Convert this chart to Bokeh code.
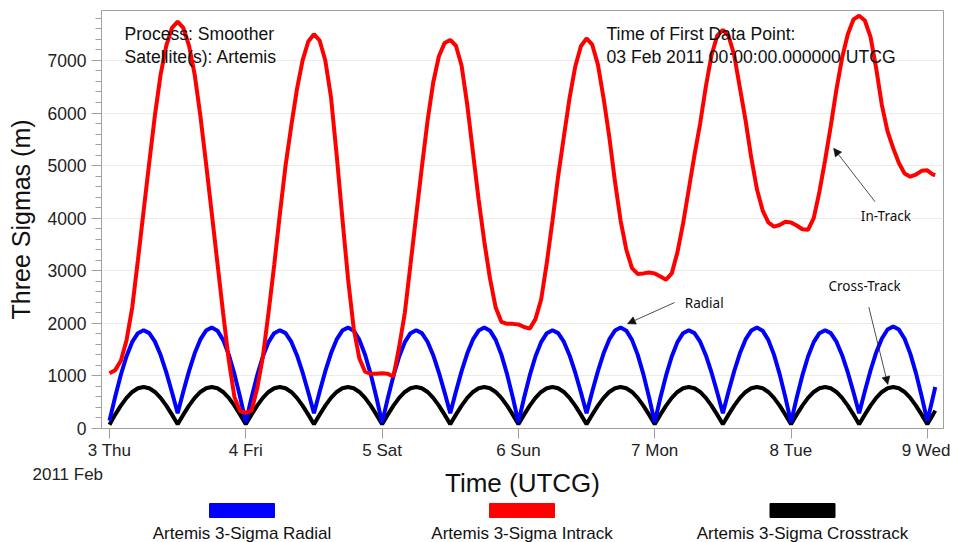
from bokeh.plotting import figure
from bokeh.models import (FixedTicker, SingleIntervalTicker, Label, Arrow, NormalHead,
                          Range1d, ColumnDataSource)
from bokeh.layouts import column
from bokeh.core.properties import value
from bokeh.embed import file_html
from bokeh.resources import INLINE

# ---------------- data (hours since 03 Feb 2011 00:00 UTCG) ----------------
hours = list(range(0, 146)) + [145.4]

radial = [
    150, 604, 1022, 1376, 1646, 1813, 1870, 1814, 1652, 1397, 1068, 690,
    290, 702, 1091, 1430, 1694, 1862, 1920, 1861, 1686, 1405, 1034, 597,
    120, 584, 1009, 1370, 1643, 1813, 1870, 1814, 1651, 1395, 1066, 689,
    290, 701, 1090, 1429, 1694, 1862, 1920, 1861, 1686, 1403, 1030, 590,
    110, 577, 1005, 1368, 1642, 1813, 1870, 1814, 1650, 1394, 1065, 688,
    290, 702, 1091, 1430, 1694, 1862, 1920, 1861, 1686, 1405, 1034, 597,
    120, 584, 1009, 1370, 1643, 1813, 1870, 1814, 1651, 1395, 1066, 689,
    290, 702, 1091, 1430, 1694, 1862, 1920, 1861, 1686, 1405, 1034, 597,
    120, 584, 1009, 1370, 1643, 1813, 1870, 1814, 1651, 1395, 1066, 689,
    290, 702, 1091, 1430, 1694, 1862, 1920, 1861, 1686, 1405, 1034, 597,
    120, 584, 1009, 1370, 1643, 1813, 1870, 1814, 1651, 1395, 1066, 689,
    290, 708, 1103, 1446, 1712, 1882, 1940, 1881, 1706, 1424, 1053, 616,
    140, 600, 790,
]

intrack = [
    1050, 1110, 1290, 1680, 2300, 3200, 4130, 5060, 5960, 6730, 7280, 7620,
    7740, 7620, 7280, 6730, 5950, 5040, 4100, 3150, 2200, 1300, 600, 330,
    300, 340, 760, 1360, 2200, 3110, 4080, 5000, 5750, 6450, 7000, 7360,
    7500, 7380, 7000, 6300, 5200, 4000, 2850, 1900, 1330, 1080, 1040, 1040,
    1050, 1040, 990, 1550, 2200, 3120, 4050, 4970, 5850, 6580, 7080, 7330,
    7390, 7280, 6900, 6150, 5250, 4350, 3550, 2850, 2300, 2030, 1990, 1990,
    1980, 1930, 1900, 2080, 2450, 3150, 3950, 4800, 5550, 6280, 6880, 7270,
    7420, 7300, 6920, 6280, 5550, 4700, 3950, 3400, 3050, 2940, 2950, 2965,
    2950, 2890, 2830, 2950, 3350, 3900, 4550, 5200, 5800, 6500, 7100, 7470,
    7580, 7470, 7100, 6480, 5860, 5150, 4550, 4150, 3920, 3840, 3870, 3930,
    3920, 3860, 3790, 3780, 4000, 4500, 5100, 5750, 6450, 7050, 7500, 7780,
    7850, 7760, 7450, 6850, 6150, 5650, 5330, 5050, 4850, 4790, 4830, 4900,
    4910, 4830, 4820,
]

crosstrack = [
    70, 264, 435, 582, 695, 766, 790, 766, 695, 582, 435, 264,
    80, 264, 435, 582, 695, 766, 790, 766, 695, 582, 435, 264,
    80, 264, 435, 582, 695, 766, 790, 766, 695, 582, 435, 264,
    80, 264, 435, 582, 695, 766, 790, 766, 695, 582, 435, 264,
    80, 264, 435, 582, 695, 766, 790, 766, 695, 582, 435, 264,
    80, 264, 435, 582, 695, 766, 790, 766, 695, 582, 435, 264,
    80, 264, 435, 582, 695, 766, 790, 766, 695, 582, 435, 264,
    80, 264, 435, 582, 695, 766, 790, 766, 695, 582, 435, 264,
    80, 264, 435, 582, 695, 766, 790, 766, 695, 582, 435, 264,
    80, 264, 435, 582, 695, 766, 790, 766, 695, 582, 435, 264,
    80, 264, 435, 582, 695, 766, 790, 766, 695, 582, 435, 264,
    80, 264, 435, 582, 695, 766, 790, 766, 695, 582, 435, 264,
    80, 264, 340,
]

day_ticks = [0, 24, 48, 72, 96, 120, 144]
day_labels = ["3 Thu", "4 Fri", "5 Sat", "6 Sun", "7 Mon", "8 Tue", "9 Wed"]
year_month_label = "2011 Feb"

series_names = ["Artemis 3-Sigma Radial", "Artemis 3-Sigma Intrack", "Artemis 3-Sigma Crosstrack"]
series_colors = ["#0000ff", "#ff0000", "#000000"]

FONT = "Liberation Sans"
NOTE_FONT = "Noto Sans"

# ---------------- main figure ----------------
p = figure(width=950, height=462, output_backend="svg", toolbar_location=None,
           x_range=Range1d(-1.41, 146.85), y_range=Range1d(0, 7950),
           min_border_left=101, min_border_right=7, min_border_top=10, min_border_bottom=33)

src = ColumnDataSource(dict(h=hours, r=radial, i=intrack, c=crosstrack))
p.line("h", "c", source=src, line_color=series_colors[2], line_width=4)
p.line("h", "r", source=src, line_color=series_colors[0], line_width=4)
p.line("h", "i", source=src, line_color=series_colors[1], line_width=4)

p.background_fill_color = "white"
p.border_fill_color = "white"
p.outline_line_color = "#a0a0a0"
p.xgrid.visible = False
p.ygrid.grid_line_color = "#ebebeb"
p.ygrid.grid_line_width = 1

xa = p.xaxis[0]
xa.ticker = FixedTicker(ticks=day_ticks)
xa.major_label_overrides = {t: l for t, l in zip(day_ticks, day_labels)}
xa.major_tick_out = 10
xa.major_tick_in = 0
xa.minor_tick_out = 0
xa.minor_tick_in = 0
xa.axis_line_color = "#a0a0a0"
xa.major_tick_line_color = "#a0a0a0"
xa.major_label_text_font = FONT
xa.major_label_text_font_size = "17px"
xa.major_label_text_color = "#222222"
xa.major_label_standoff = 2

ya = p.yaxis[0]
ya.ticker = SingleIntervalTicker(interval=1000, num_minor_ticks=5)
ya.major_tick_out = 10
ya.major_tick_in = 0
ya.minor_tick_out = 6
ya.minor_tick_in = 0
ya.axis_line_color = "#a0a0a0"
ya.major_tick_line_color = "#a0a0a0"
ya.minor_tick_line_color = "#a0a0a0"
ya.major_label_text_font = FONT
ya.major_label_text_font_size = "17.5px"
ya.major_label_text_color = "#222222"
ya.major_label_standoff = 5
ya.axis_label = "Three Sigmas (m)"
ya.axis_label_text_font = FONT
ya.axis_label_text_font_size = "25px"
ya.axis_label_text_font_style = "normal"
ya.axis_label_text_color = "#111111"
ya.axis_label_standoff = 10

# info texts
for txt, hx, vy in [("Process: Smoother", 2.64, 7494),
                    ("Satellite(s): Artemis", 2.64, 7057),
                    ("Time of First Data Point:", 87.5, 7494),
                    ("03 Feb 2011 00:00:00.000000 UTCG", 87.5, 7057)]:
    p.add_layout(Label(x=hx, y=vy, text=txt, text_font=FONT, text_font_size="17.6px",
                       text_baseline="middle", text_align="left", text_color="#111111"))

# callouts
for txt, hx, vy in [("Radial", 101.3, 2390), ("In-Track", 132.3, 4041),
                    ("Cross-Track", 126.6, 2713)]:
    p.add_layout(Label(x=hx, y=vy, text=txt, text_font=NOTE_FONT, text_font_size="13.5px",
                       text_baseline="middle", text_align="left", text_color="#111111"))

for (x0, y0, x1, y1) in [(99.5, 2396, 91.2, 1992), (134.8, 4312, 127.5, 5331),
                         (133.7, 2309, 137.05, 835)]:
    p.add_layout(Arrow(x_start=x0, y_start=y0, x_end=x1, y_end=y1, line_width=0.8,
                       line_color="#222222",
                       end=NormalHead(size=8, fill_color="#111111", line_color="#111111",
                                      line_width=0.5)))

# ---------------- bottom strip: date line, axis title, legend ----------------
lg = figure(width=950, height=80, output_backend="svg", toolbar_location=None,
            x_range=Range1d(0, 950), y_range=Range1d(80, 0),
            min_border=0, min_border_left=0, min_border_right=0,
            min_border_top=0, min_border_bottom=0)
lg.axis.visible = False
lg.grid.visible = False
lg.outline_line_color = None
lg.background_fill_color = "white"
lg.border_fill_color = "white"

for fig in (p, lg):
    try:
        fig.frame_align = False
    except Exception:
        pass

lg.text(x=[32], y=[12], text=[year_month_label], text_align="left", text_baseline="middle",
        text_font=value(FONT), text_font_size="17px", text_color="#222222")
lg.text(x=[522], y=[20], text=["Time (UTCG)"], text_align="center", text_baseline="middle",
        text_font=value(FONT), text_font_size="26px", text_color="#111111")

centers = [241.5, 521.5, 802]
lg.quad(left=[c - 32.5 for c in centers], right=[c + 32.5 for c in centers],
        top=[41] * 3, bottom=[55] * 3, fill_color=series_colors, line_color=series_colors)
lg.text(x=centers, y=[71] * 3, text=series_names, text_align="center",
        text_baseline="alphabetic", text_font=value(FONT), text_font_size="17px",
        text_color="#111111")

layout = column(p, lg, spacing=0)
open("out.html", "w").write(file_html(layout, INLINE))
